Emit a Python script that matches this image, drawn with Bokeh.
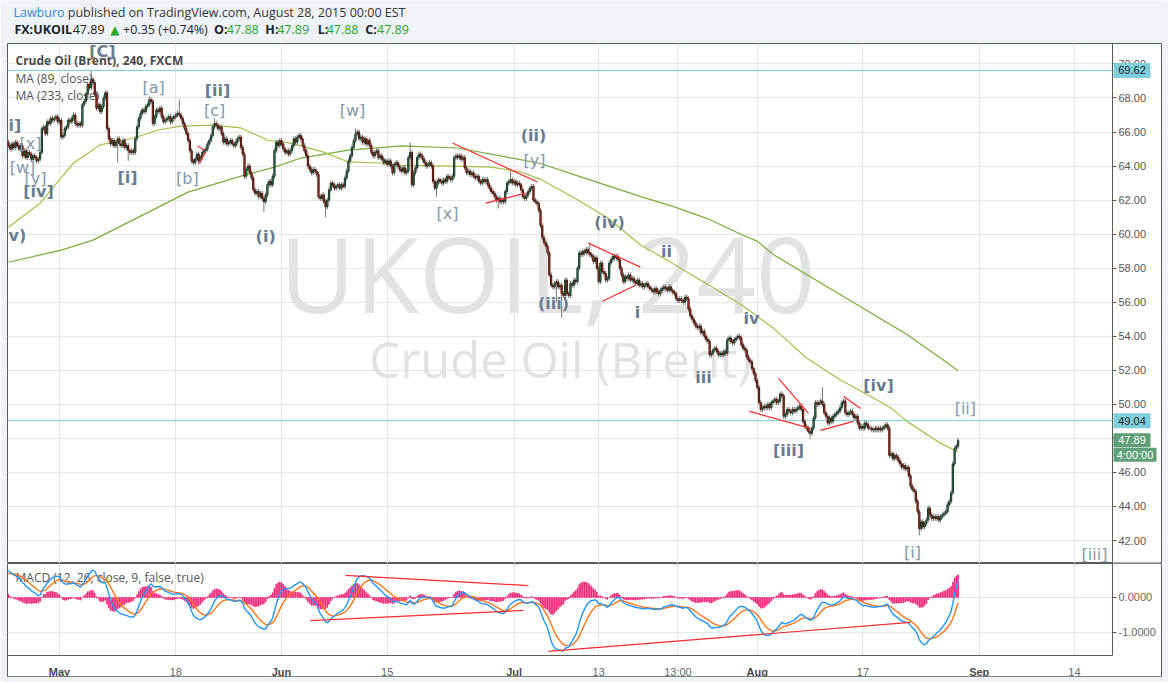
import numpy as np
from bokeh.plotting import figure
from bokeh.layouts import column
from bokeh.models import Range1d, FixedTicker, LinearAxis, NumeralTickFormatter, ColumnDataSource
from bokeh.core.properties import value
from bokeh.embed import file_html
from bokeh.resources import INLINE

# ---------------- data (bar index: 0 = Mon 27 Apr 2015 00:00, 6 bars of 4h per trading day) -------------
FIRST_BAR = -5
close = [
    65.2, 65.0, 65.3, 65.1, 65.4, 65.2,
    65.0, 65.2, 64.6, 64.9, 64.5, 64.8, 64.7, 64.4, 64.6, 64.5,
    64.3, 64.4, 64.8, 66.2, 66.3, 65.9, 66.6, 66.5, 66.8, 66.7,
    66.8, 66.9, 66.6, 66.7, 65.7, 65.8, 66.2, 66.3, 66.7, 66.6,
    66.8, 67.0, 66.5, 66.4, 66.5, 66.4, 67.6, 67.8, 68.2, 68.8,
    68.6, 69.1, 68.9, 68.2, 67.4, 67.6, 67.2, 67.5, 68.0, 68.3,
    66.2, 65.6, 65.3, 65.5, 65.2, 65.4, 65.6, 65.3, 65.2, 65.5,
    65.1, 65.2, 64.9, 64.8, 64.9, 64.8, 65.6, 66.3, 66.8, 67.1,
    67.3, 67.2, 67.5, 67.6, 67.9, 67.8, 66.5, 66.9, 67.3, 67.2,
    67.4, 66.9, 66.6, 66.7, 66.8, 66.9, 66.6, 66.8, 66.9, 67.0,
    67.1, 67.0, 66.8, 66.5, 66.2, 65.9, 65.5, 64.9, 64.3, 64.2,
    64.4, 64.7, 64.3, 64.5, 64.8, 64.9, 65.0, 65.3, 65.5, 65.8,
    66.3, 66.5, 66.4, 66.2, 66.3, 65.9, 65.4, 65.6, 65.3, 65.4,
    65.5, 65.3, 65.2, 65.4, 65.6, 65.7, 65.1, 64.7, 63.4, 63.8,
    64.0, 63.6, 63.3, 62.6, 62.4, 62.5, 62.2, 62.4, 62.1, 61.9,
    62.3, 62.9, 63.1, 62.9, 63.4, 64.9, 65.4, 65.2, 65.5, 65.3,
    65.0, 64.8, 64.9, 64.7, 64.9, 65.2, 65.6, 65.4, 65.7, 65.8,
    65.6, 65.2, 64.9, 64.6, 64.0, 63.8, 63.6, 63.8, 63.7, 63.5,
    62.2, 62.1, 62.3, 61.9, 61.6, 62.0, 62.6, 63.0, 62.9, 62.7,
    62.8, 62.9, 62.7, 62.9, 62.8, 63.3, 63.7, 64.3, 64.6, 65.1,
    65.5, 65.9, 66.0, 65.6, 65.7, 65.4, 65.6, 65.3, 65.5, 65.2,
    64.8, 64.6, 64.8, 64.9, 64.5, 64.6, 64.4, 64.2, 64.3, 64.1,
    64.3, 64.0, 63.6, 64.1, 64.2, 64.0, 63.8, 63.7, 63.9, 63.6,
    63.7, 64.5, 64.8, 62.9, 63.6, 63.9, 64.5, 64.7, 64.6, 64.4,
    64.2, 64.0, 64.1, 64.2, 64.0, 63.1, 62.7, 63.0, 63.2, 63.1,
    63.0, 63.2, 63.1, 63.4, 63.3, 63.2, 63.4, 64.5, 64.6, 64.5,
    64.6, 64.4, 64.5, 63.9, 63.6, 63.7, 63.5, 63.6, 63.4, 63.3,
    63.4, 63.1, 63.0, 63.2, 63.1, 63.2, 62.9, 62.7, 62.5, 62.4,
    62.2, 62.0, 62.1, 61.9, 62.0, 61.9, 62.5, 63.0, 63.1, 63.2,
    63.0, 63.1, 62.9, 63.0, 62.9, 62.6, 62.2, 62.1, 62.3, 62.5,
    62.7, 62.8, 62.0, 61.9, 61.8, 61.4, 60.5, 59.8, 59.5, 59.3,
    58.9, 57.6, 57.0, 56.9, 57.1, 57.2, 56.9, 57.0, 56.5, 56.4,
    57.3, 56.5, 56.4, 57.1, 57.0, 57.3, 57.2, 58.0, 58.9, 58.8,
    59.0, 58.9, 59.1, 58.9, 58.8, 58.7, 58.4, 58.6, 58.0, 57.2,
    58.3, 57.8, 57.7, 57.3, 57.4, 58.3, 58.5, 58.7, 58.6, 58.7,
    58.5, 58.0, 57.6, 57.2, 57.5, 57.4, 57.6, 57.3, 57.4, 57.2,
    57.1, 57.3, 57.0, 57.1, 56.9, 57.0, 57.1, 56.9, 56.8, 56.7,
    56.6, 56.8, 56.6, 56.5, 56.7, 56.8, 56.9, 56.8, 56.7, 56.9,
    56.7, 56.6, 56.5, 56.2, 56.1, 56.2, 56.1, 56.0, 56.3, 56.2,
    55.6, 55.2, 55.0, 54.8, 54.6, 54.5, 54.6, 54.2, 54.3, 54.0,
    53.8, 53.7, 52.9, 53.0, 53.2, 53.3, 53.1, 52.9, 53.0, 52.9,
    53.1, 53.0, 53.8, 53.9, 53.7, 53.6, 53.8, 53.9, 54.0, 53.9,
    53.5, 53.3, 53.2, 52.8, 52.6, 52.5, 52.1, 51.8, 51.4, 51.0,
    50.1, 49.7, 49.8, 49.9, 49.8, 50.0, 49.8, 50.1, 50.2, 50.3,
    50.1, 50.2, 50.6, 50.5, 49.3, 49.4, 49.7, 49.6, 49.5, 49.7,
    49.6, 49.7, 49.8, 49.9, 49.7, 49.0, 48.7, 48.6, 48.4, 48.3,
    48.6, 49.2, 50.1, 50.0, 50.1, 50.2, 50.0, 49.5, 49.3, 48.9,
    49.2, 49.0, 49.3, 49.4, 49.5, 49.6, 49.8, 50.1, 50.2, 49.5,
    49.4, 49.5, 49.6, 49.4, 49.2, 49.3, 48.9, 48.6, 48.7, 48.6,
    48.9, 48.8, 48.6, 48.6, 48.5, 48.5, 48.6, 48.5, 48.6, 48.5,
    48.6, 48.7, 48.8, 48.6, 47.0, 47.1, 46.8, 47.0, 46.9, 46.7,
    46.5, 46.3, 46.4, 46.2, 46.3, 45.8, 45.2, 45.0, 44.9, 44.3,
    43.7, 42.7, 43.1, 42.8, 43.0, 43.2, 43.9, 43.5, 43.3, 43.4,
    43.3, 43.4, 43.2, 43.4, 43.5, 43.6, 43.7, 44.1, 44.3, 44.8,
    46.5, 47.4, 47.54, 47.89,
]
first_open = 65.4
spike_high = {42: 69.62, 75: 68.1, 92: 67.9, 112: 66.8, 192: 66.2, 223: 65.4, 280: 63.7, 325: 59.5, 457: 51.0}
spike_low = {57: 64.2, 63: 64.3, 140: 61.3, 175: 61.0, 238: 62.2, 273: 61.5, 306: 56.0, 309: 55.1, 450: 48.0, 512: 42.3}

ma89_bar = [-5, 13, 32, 47, 66, 80, 93, 111, 127, 142, 155, 174, 188, 205, 218, 246, 269, 286, 297, 316,
            335, 354, 373, 392, 411, 429, 448, 467, 486, 496, 505, 524, 534]
ma89 = [60.41, 61.82, 64.18, 65.24, 65.65, 66.12, 66.35, 66.41, 66.24, 65.53, 65.35, 64.82, 64.24, 64.18,
        64.06, 64.00, 63.94, 63.65, 63.22, 62.14, 60.96, 59.35, 58.22, 57.04, 55.85, 54.49, 52.72, 51.45,
        50.37, 49.78, 49.00, 47.72, 47.20]
ma233_bar = [-5, 25, 43, 70, 97, 127, 146, 161, 188, 218, 250, 287, 297, 316, 335, 354, 373, 392, 411, 420,
             429, 448, 467, 486, 505, 524, 534]
ma233 = [58.35, 59.06, 59.65, 61.06, 62.47, 63.41, 63.94, 64.47, 64.94, 65.18, 65.06, 64.35, 64.15, 63.50,
         62.85, 62.20, 61.60, 60.90, 59.98, 59.59, 58.81, 57.63, 56.45, 55.28, 54.10, 52.72, 51.98]

month_tick_bar = [24, 150, 282, 420, 546]
month_tick_label = ["May", "Jun", "Jul", "Aug", "Sep"]
day_tick_bar = [90, 210, 330, 375, 480, 600]
day_tick_label = ["18", "15", "13", "13:00", "17", "14"]
price_ticks = [42, 44, 46, 48, 50, 52, 54, 56, 58, 60, 62, 64, 66, 68, 70]
macd_ticks = [0, -1]
level_lines = [69.62, 49.04]
last_price = 47.89
countdown = "4:00:00"
macd_start = [64.9, 64.1, 0.65]   # ema12, ema26, signal before the first visible bar

wave_bold_text = ["[C]", "[iv]", "[ii]", "[i]", "(i)", "(ii)", "(iv)", "ii", "i",
                  "(iii)", "iv", "iii", "[iii]", "[iv]"]
wave_bold_bar = [48.4, 12.1, 113.7, 62.6, 141.0, 293.0, 336.2, 368.5, 352.0, 304.4, 416.7, 389.5,
                 437.7, 488.8]
wave_bold_price = [70.73, 62.50, 68.44, 63.33, 59.86, 65.80, 60.68, 58.98, 55.40, 55.93,
                   55.04, 51.58, 47.29, 51.11]
edge_label_text = ["i]", "v)"]          # labels cut by the left edge of the chart
edge_label_price = [66.38, 59.92]
wave_light_text = ["[x]", "[w]", "[y]", "[a]", "[c]", "[b]", "[w]", "[x]", "[y]", "[ii]", "[i]", "[iii]"]
wave_light_bar = [7.5, 3.0, 10.4, 77.4, 112.1, 96.6, 190.3, 244.2, 293.6, 538.1, 508.1, 611.4]
wave_light_price = [65.33, 63.92, 63.27, 68.62, 67.26, 63.27, 67.26, 61.21, 64.33, 49.76, 41.29, 41.18]

trend_bar0 = [247.0, 265.8, 324.2, 332.2, 415.6, 432.1, 455.9, 469.0, 102.3, 102.9]
trend_p0 = [65.35, 61.82, 59.47, 56.06, 49.59, 51.53, 48.47, 50.47, 65.18, 64.12]
trend_bar1 = [295.3, 288.5, 353.7, 350.9, 450.2, 449.1, 474.6, 478.6, 106.3, 106.9]
trend_p1 = [63.06, 62.41, 58.06, 57.00, 48.59, 49.47, 49.00, 49.76, 64.94, 64.82]
macd_trend_bar0 = [186.3, 166.5, 301.5]
macd_trend_v0 = [0.63, -0.66, -1.54]
macd_trend_bar1 = [290.2, 287.3, 507.0]
macd_trend_v1 = [0.34, -0.37, -0.71]

# ---------------- layout constants ----------------
W = 1168
BG = "#eff2f7"
GRID = "#e6e6e6"
EDGE = "#5a5a5a"
X0, XE, XA = -5.505, 649.43, 621.62     # frame left, frame right, price-axis position (bars)
Y0, Y1 = 40.65, 71.20                   # price frame bottom / top
M0, M1, MX = -2.257, 0.971, -1.657      # macd frame bottom / top, time-axis position
FRAME_W, FRAME_H, MACD_H = 1154, 520, 113
BPX = (XE - X0) / FRAME_W               # bars per pixel
PPX = (Y1 - Y0) / FRAME_H               # price per pixel
def bx(px):
    return X0 + px * BPX
def py(px):
    return Y1 - px * PPX
def my(px):
    return M1 - px * (M1 - M0) / MACD_H

# ---------------- derived series ----------------
c = np.array(close, dtype=float)
bars = np.arange(FIRST_BAR, FIRST_BAR + len(c))
o = np.empty_like(c)
o[0] = first_open
o[1:] = c[:-1]
hi = np.maximum(o, c) + 0.15
lo = np.minimum(o, c) - 0.15
for b, v in spike_high.items():
    hi[b - FIRST_BAR] = max(hi[b - FIRST_BAR], v)
for b, v in spike_low.items():
    lo[b - FIRST_BAR] = min(lo[b - FIRST_BAR], v)
up = c >= o
src = ColumnDataSource(dict(
    x=bars, hi=hi, lo=lo, top=np.maximum(o, c), bot=np.minimum(o, c),
    fill=["#3f9163" if u else "#d8432c" for u in up],
    line=["#1b3a28" if u else "#4a150c" for u in up],
))

e12, e26, sig = macd_start
macd, signal = [], []
for v in c:
    e12 += 2 / 13 * (v - e12)
    e26 += 2 / 27 * (v - e26)
    m = e12 - e26
    sig += 2 / 10 * (m - sig)
    macd.append(m)
    signal.append(sig)
macd = np.array(macd)
signal = np.array(signal)
hist = macd - signal

xr = Range1d(X0, XE)
AXF = "Liberation Sans"

# ---------------- header ----------------
hdr = figure(width=W, height=43, x_range=Range1d(0, W), y_range=Range1d(43, 0),
             toolbar_location=None, output_backend="svg", min_border=0,
             x_axis_location=None, y_axis_location=None,
             background_fill_color=BG, border_fill_color=BG, outline_line_color=None)
hdr.grid.visible = False
hf = value("Open Sans")
hdr.text(x=[6], y=[12], text=["Lawburo"], text_font=hf, text_font_size="12.5px",
         text_color="#2f8bd3", text_baseline="middle")
hdr.text(x=[61], y=[12], text=["published on TradingView.com, August 28, 2015 00:00 EST"], text_font=hf,
         text_font_size="12.5px", text_color="#333333", text_baseline="middle")
hdr.text(x=[7, 209, 261, 314, 362], y=[29] * 5, text=["FX:UKOIL", "O:", "H:", "L:", "C:"],
         text_font=hf, text_font_size="12.5px", text_font_style="bold", text_color="#222222",
         text_baseline="middle")
hdr.text(x=[66, 117], y=[29, 29], text=["47.89", "+0.35 (+0.74%)"], text_font=hf,
         text_font_size="12.5px", text_color="#222222", text_baseline="middle")
hdr.text(x=[104], y=[29], text=["▲"], text_font=value("DejaVu Sans"), text_font_size="12px",
         text_color="#2aa52a", text_baseline="middle")
hdr.text(x=[222, 273, 323, 374], y=[29] * 4, text=["47.88", "47.89", "47.88", "47.89"], text_font=hf,
         text_font_size="12.5px", text_color="#2aa52a", text_baseline="middle")

# ---------------- price panel ----------------
p = figure(width=W, height=FRAME_H, x_range=xr, y_range=Range1d(Y0, Y1), toolbar_location=None,
           output_backend="svg", x_axis_location=None, y_axis_location="right",
           min_border_left=7, min_border_right=7, min_border_top=0, min_border_bottom=0,
           background_fill_color="white", border_fill_color=BG, outline_line_color=EDGE)
p.yaxis.fixed_location = XA
p.yaxis.ticker = FixedTicker(ticks=price_ticks)
p.yaxis.formatter = NumeralTickFormatter(format="0.00")
p.ygrid.ticker = FixedTicker(ticks=price_ticks)
p.xgrid.ticker = FixedTicker(ticks=month_tick_bar + day_tick_bar)
for g in (p.xgrid, p.ygrid):
    g.grid_line_color = GRID
p.yaxis.major_label_text_font = AXF
p.yaxis.major_label_text_font_size = "11px"
p.yaxis.major_label_text_color = "#555555"
p.yaxis.axis_line_color = EDGE
p.yaxis.major_tick_line_color = EDGE
p.yaxis.major_tick_out = 4
p.yaxis.major_tick_in = 0
p.yaxis.minor_tick_line_color = None
p.yaxis.major_label_standoff = 2

# price-scale strip (white, hides the grid right of the axis)
p.quad(left=[XA], right=[XE - BPX], bottom=[Y0 + PPX], top=[Y1 - PPX], fill_color="white", line_color=None)

# watermark
p.text(x=[bx(540)], y=[py(229)], text=["UKOIL, 240"], text_font=value("Open Sans"), text_font_size="104px",
       text_color="#e2e2e2", text_align="center", text_baseline="middle")
p.text(x=[bx(553)], y=[py(315)], text=["Crude Oil (Brent)"], text_font=value("Open Sans"),
       text_font_size="49px", text_color="#e2e2e2", text_align="center", text_baseline="middle")

# legend texts
p.text(x=[bx(8)], y=[py(17)], text=["Crude Oil (Brent), 240, FXCM"], text_font=value("Open Sans"),
       text_font_size="12px", text_font_style="bold", text_color="#4a4a4a", text_baseline="middle")
p.text(x=[bx(8), bx(8)], y=[py(35), py(52)], text=["MA (89, close)", "MA (233, close)"],
       text_font=value("Open Sans"), text_font_size="12px", text_color="#555555", text_baseline="middle")

p.segment(x0=[X0] * len(level_lines), y0=level_lines, x1=[XA] * len(level_lines), y1=level_lines,
          line_color="#78cbdc", line_width=1)

p.line(ma233_bar, ma233, line_color="#78ad3a", line_width=1.2)
p.line(ma89_bar, ma89, line_color="#a3bf47", line_width=1.2)

p.segment(x0="x", y0="hi", x1="x", y1="lo", source=src, line_color="#777777", line_width=1)
p.vbar(x="x", top="top", bottom="bot", width=0.72, fill_color="fill", line_color="line",
       line_width=1, source=src)

p.segment(x0=trend_bar0, y0=trend_p0, x1=trend_bar1, y1=trend_p1, line_color="#ff2a2a", line_width=1.2)

p.text(x=wave_bold_bar, y=wave_bold_price, text=wave_bold_text, text_font=value("DejaVu Sans"),
       text_font_size="16px", text_font_style="bold", text_color="#687b8f",
       text_align="center", text_baseline="middle")
p.text(x=[bx(1)] * 2, y=edge_label_price, text=edge_label_text, text_font=value("DejaVu Sans"),
       text_font_size="16px", text_font_style="bold", text_color="#687b8f",
       text_align="left", text_baseline="middle")
p.text(x=wave_light_bar, y=wave_light_price, text=wave_light_text, text_font=value("DejaVu Sans"),
       text_font_size="16px", text_color="#8497aa", text_align="center", text_baseline="middle")

# price tags on the scale
tag_y = level_lines + [last_price, last_price - 14.5 * PPX]
tag_text = [f"{v:.2f}" for v in level_lines] + [f"{last_price:.2f}", countdown]
tag_w = [37, 37, 37, 43]
tag_x = [XA + (1 + w / 2) * BPX for w in tag_w]
tag_fill = ["#7ecedc", "#7ecedc", "#5e9f79", "#5e9f79"]
tag_col = ["#1f1f1f", "#1f1f1f", "white", "white"]
p.rect(x=tag_x, y=tag_y, width=tag_w, height=[15, 15, 14, 14], width_units="screen", height_units="screen",
       fill_color=tag_fill, line_color=None, level="overlay")
p.text(x=tag_x, y=tag_y, text=tag_text, text_font=value(AXF), text_font_size="11px", text_color=tag_col,
       text_align="center", text_baseline="middle", level="overlay")

# ---------------- MACD panel ----------------
q = figure(width=W, height=MACD_H + 6, x_range=xr, y_range=Range1d(M0, M1), toolbar_location=None,
           output_backend="svg", y_axis_location="right", x_axis_location="below",
           min_border_left=7, min_border_right=7, min_border_top=0, min_border_bottom=6,
           background_fill_color="white", border_fill_color=BG, outline_line_color=EDGE)
q.yaxis.fixed_location = XA
q.yaxis.ticker = FixedTicker(ticks=macd_ticks)
q.yaxis.formatter = NumeralTickFormatter(format="0.0000")
q.ygrid.ticker = FixedTicker(ticks=macd_ticks)
q.xgrid.ticker = FixedTicker(ticks=month_tick_bar + day_tick_bar)
for g in (q.xgrid, q.ygrid):
    g.grid_line_color = GRID
q.xaxis.fixed_location = MX
q.xaxis.ticker = FixedTicker(ticks=day_tick_bar)
q.xaxis.major_label_overrides = dict(zip(day_tick_bar, day_tick_label))
month_axis = LinearAxis(fixed_location=MX, ticker=FixedTicker(ticks=month_tick_bar),
                        major_label_overrides=dict(zip(month_tick_bar, month_tick_label)))
q.add_layout(month_axis, "below")
for ax in (q.xaxis[0], q.yaxis[0], month_axis):
    ax.major_label_text_font = AXF
    ax.major_label_text_font_size = "11px"
    ax.major_label_text_color = "#666666"
    ax.minor_tick_line_color = None
    ax.axis_line_color = None
month_axis.major_label_text_font_style = "bold"
month_axis.major_label_text_color = "#4a4a4a"
for ax in (q.xaxis[0], month_axis):
    ax.major_tick_line_color = None
    ax.major_label_standoff = 5
q.yaxis.major_tick_line_color = EDGE
q.yaxis.major_tick_out = 4
q.yaxis.major_tick_in = 0
q.yaxis.major_label_standoff = 2

q.quad(left=[XA, X0 + BPX], right=[XE - BPX, XA], bottom=[M0, M0], top=[M1, MX], fill_color="white",
       line_color=None)
q.segment(x0=[X0, XA], y0=[MX, MX], x1=[XA, XA], y1=[MX, M1], line_color=EDGE, line_width=1)

q.text(x=[bx(8)], y=[my(14)], text=["MACD (12, 26, close, 9, false, true)"], text_font=value("Open Sans"),
       text_font_size="12px", text_color="#555555", text_baseline="middle")
q.vbar(x=bars, top=hist, bottom=0, width=0.5, fill_color="#f0186e", line_color="#f0186e", line_width=0.6)
q.line(bars, signal, line_color="#ff7417", line_width=1.4)
q.line(bars, macd, line_color="#2196f3", line_width=1.4)
q.segment(x0=macd_trend_bar0, y0=macd_trend_v0, x1=macd_trend_bar1, y1=macd_trend_v1,
          line_color="#ff2a2a", line_width=1.2)

layout = column(hdr, p, q, spacing=0)
open("out.html", "w").write(file_html(layout, INLINE))
